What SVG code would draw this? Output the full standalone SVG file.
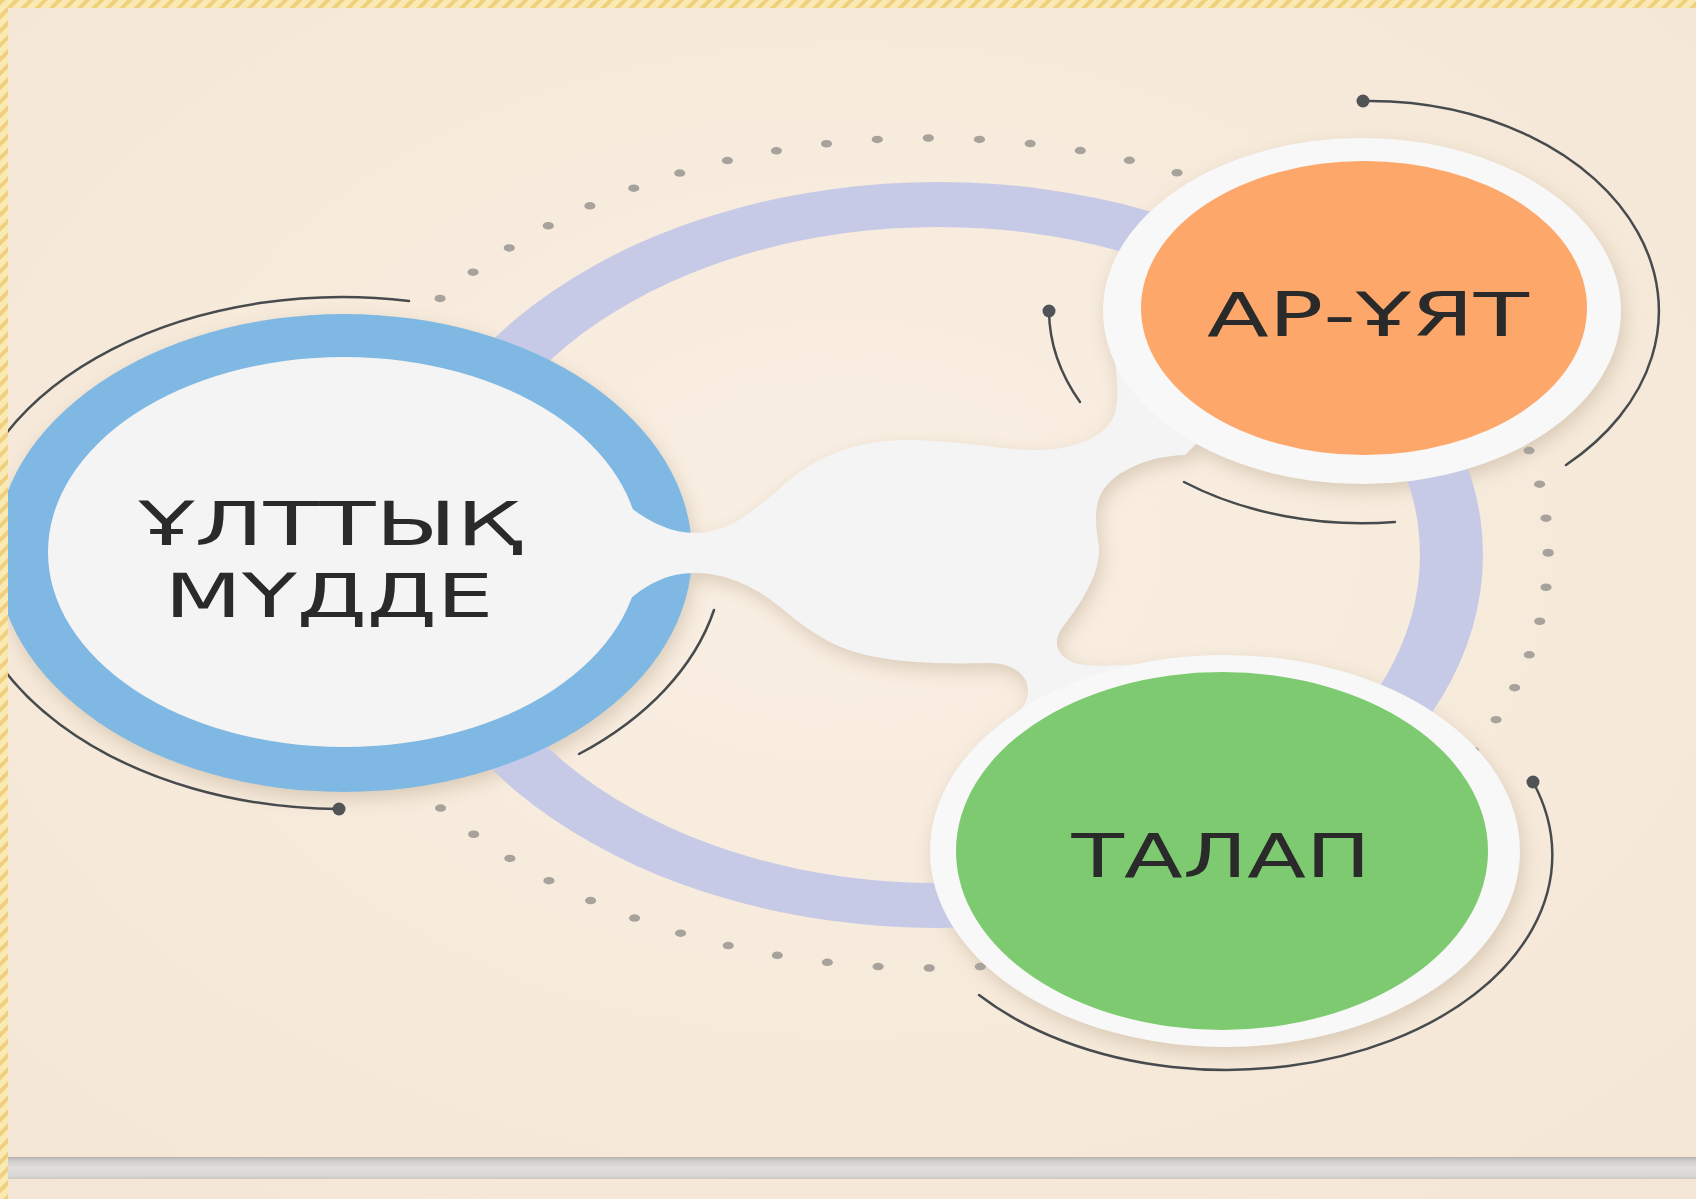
<svg xmlns="http://www.w3.org/2000/svg" width="1696" height="1199" viewBox="0 0 1696 1199">
<defs>
<style>
.lbl{font-family:"DejaVu Sans","Noto Sans",sans-serif;font-size:61px;fill:#2a2a2a;text-anchor:middle}
.arc{fill:none;stroke:#484b4e;stroke-width:2.5;stroke-linecap:round}
.pin{fill:#505457}
.ring{fill:#f8f8f8}
.blob{fill:#f4f4f4}
</style>
<pattern id="stripes" width="10" height="10" patternUnits="userSpaceOnUse" patternTransform="rotate(45)">
<rect width="10" height="10" fill="#fbe9b4"/>
<rect width="4" height="10" fill="#efd07e"/>
</pattern>
<radialGradient id="paper" cx="0.5" cy="0.45" r="0.75">
<stop offset="0" stop-color="#f9efe3"/>
<stop offset="1" stop-color="#f4e6d4"/>
</radialGradient>
<linearGradient id="bar" x1="0" y1="0" x2="0" y2="1">
<stop offset="0" stop-color="#b5b2ae"/>
<stop offset="0.18" stop-color="#d0cfcd"/>
<stop offset="0.5" stop-color="#e0dfde"/>
<stop offset="0.85" stop-color="#d8d7d5"/>
<stop offset="1" stop-color="#cdc7bf"/>
</linearGradient>
<filter id="soft" x="-20%" y="-20%" width="140%" height="140%"><feGaussianBlur stdDeviation="9"/></filter>
<path id="blobPath" d="M 596 478 C 630 510 660 533 695 533 C 728 533 752 512 778 490 C 808 462 845 441 905 440 C 960 440 1000 450 1035 450 C 1070 450 1100 440 1112 420 C 1120 405 1117 380 1115 360 L 1200 380 L 1200 440 L 1185 455 C 1150 456 1115 470 1102 492 C 1092 510 1097 530 1099 548 C 1100 575 1080 605 1062 628 C 1050 645 1060 662 1085 665 C 1110 667 1140 664 1165 662 L 1150 720 L 965 772 L 977 751 C 1000 730 1027 712 1028 692 C 1029 675 1012 663 990 663 C 950 664 895 664 855 652 C 815 640 792 615 768 598 C 745 582 720 573 695 573 C 660 573 635 590 600 628 Z"/>
</defs>

<rect x="0" y="0" width="1696" height="1199" fill="url(#paper)"/>

<g id="shadows" filter="url(#soft)" fill="#a08a6e" opacity="0.33" transform="translate(3 7)">
<ellipse cx="344" cy="553" rx="348" ry="239"/>
<use href="#blobPath"/>
<ellipse cx="1362" cy="311" rx="259" ry="173"/>
<ellipse cx="1225" cy="851" rx="295" ry="196"/>
</g>

<path id="orbit" fill="#c7cae6" fill-rule="evenodd" d="M 393 555 A 545 373 0 1 0 1483 555 A 545 373 0 1 0 393 555 Z M 456 555 A 482 328 0 1 0 1420 555 A 482 328 0 1 0 456 555 Z"/>

<circle id="dots" cx="0" cy="0" r="415" transform="translate(929 553) scale(1.492 1)" fill="none" stroke="#a7a29b" stroke-width="7.5" stroke-linecap="round" stroke-dasharray="0 1" pathLength="76"/>

<g id="node-ulttyk-mudde">
<ellipse cx="344" cy="553" rx="348" ry="239" fill="#80b8e4"/>
<ellipse cx="344" cy="552" rx="296" ry="195" class="blob"/>
<text class="lbl" x="330" y="545" textLength="383" lengthAdjust="spacingAndGlyphs">ҰЛТТЫҚ</text>
<text class="lbl" x="329" y="617" textLength="329" lengthAdjust="spacingAndGlyphs">МҮДДЕ</text>
</g>

<g id="connectors">
<use href="#blobPath" class="blob"/>
</g>

<g id="node-ar-uyat">
<ellipse cx="1362" cy="311" rx="259" ry="173" class="ring"/>
<ellipse cx="1364" cy="308" rx="223" ry="147" fill="#fda76a"/>
<text class="lbl" x="1368" y="336" textLength="322" lengthAdjust="spacingAndGlyphs">АР-ҰЯТ</text>
</g>

<g id="node-talap">
<ellipse cx="1225" cy="851" rx="295" ry="196" class="ring"/>
<ellipse cx="1222" cy="851" rx="266" ry="179" fill="#7dca70"/>
<text class="lbl" x="1221" y="877" textLength="299" lengthAdjust="spacingAndGlyphs">ТАЛАП</text>
</g>

<g id="decor-arcs">
<path class="arc" d="M 409 301 A 380 256 0 1 0 339 809"/>
<circle class="pin" cx="339" cy="809" r="6.5"/>
<path class="arc" d="M 714 610 A 380 256 0 0 1 579 754"/>
<path class="arc" d="M 1363 101 A 290 210 0 0 1 1566 465"/>
<circle class="pin" cx="1363" cy="101" r="6.5"/>
<path class="arc" d="M 1049 311 A 314 213 0 0 0 1080 402"/>
<circle class="pin" cx="1049" cy="311" r="6.5"/>
<path class="arc" d="M 1184 482 A 300 211 0 0 0 1395 522"/>
<path class="arc" d="M 1533 782 A 326 215 0 0 1 979 995"/>
<circle class="pin" cx="1533" cy="782" r="6.5"/>
</g>

<rect x="8" y="1157" width="1688" height="22" fill="url(#bar)"/>
<rect x="0" y="0" width="1696" height="8" fill="url(#stripes)"/>
<rect x="0" y="0" width="8" height="1199" fill="url(#stripes)"/>
</svg>
